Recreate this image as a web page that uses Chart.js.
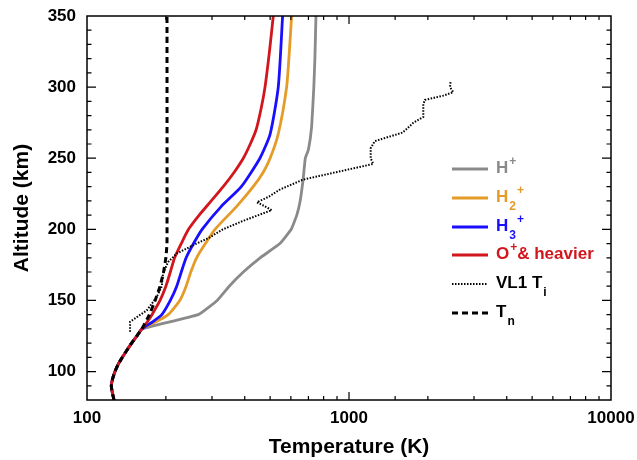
<!DOCTYPE html>
<html lang="en">
<head>
  <meta charset="UTF-8" />
  <title>Ion temperature profiles</title>
  <script src="https://cdn.jsdelivr.net/npm/chart.js"></script>
  <style>
    html, body {
      margin: 0;
      padding: 0;
      background: #fff;
    }
    #tempChart {
      display: block;
    }
  </style>
</head>
<body>
  <canvas id="tempChart" width="637" height="460"></canvas>

  <script>
  // shared lower thermosphere (all profiles follow Tn below ~130 km)
  const lowAlt  = [80, 85, 90, 95, 100, 105, 110, 115, 120, 125, 130];
  const lowTemp = [126.8, 125, 123.8, 125.3, 127.9, 131.5, 136.4, 142, 148, 155, 162];

  const hpAlt  = [140, 150, 160, 170, 180, 190, 200, 210, 220, 235, 250, 256, 272, 300, 320, 350];
  const hpTemp = [266, 314, 349, 395, 458, 545, 602, 632, 651, 668, 681, 700, 720, 734, 741, 748];

  const h2Alt  = [135, 140, 150, 160, 170, 180, 190, 200, 216, 230, 240, 250, 267, 300, 325, 350];
  const h2Temp = [183, 204, 226, 239, 249, 262, 283, 308, 372, 431, 470, 500, 537, 578, 592, 604];

  const h3Alt  = [135, 140, 150, 160, 170, 180, 190, 200, 216, 230, 250, 267, 300, 350];
  const h3Temp = [178, 193, 208, 220, 229, 239, 255, 275, 325, 388, 457, 500, 537, 558];

  const opAlt  = [135, 140, 150, 160, 170, 180, 190, 200, 210, 220, 230, 240, 250, 260, 270, 285, 300, 325, 350];
  const opTemp = [170, 177, 190, 200, 208, 216, 229, 244, 268, 298, 331, 364, 395, 420, 442, 462, 478, 497, 514];

  const tnAlt  = [140, 150, 160, 170, 180, 190, 350];
  const tnTemp = [173, 182, 190, 196, 200, 202, 202];

  // Viking 1 lander ion temperature
  const tiAlt  = [128, 135, 143, 152, 160, 169, 177, 183, 190, 194, 200, 206, 213.5, 215, 217, 219,
                  223, 228, 235, 246, 250, 257, 262, 268, 275, 279, 288, 291, 294, 296.5, 300, 303.5];
  const tiTemp = [146, 146, 169, 184, 193, 195, 204, 220, 262, 292, 330, 395, 507, 490, 468, 445,
                  495, 545, 669, 1238, 1210, 1210, 1254, 1600, 1762, 1921, 1921, 1950, 2290, 2500, 2430, 2440];

  const xTickLabels = [100, 1000, 10000];
  const yTickLabels = [100, 150, 200, 250, 300, 350];

  const colors = {
    hp: '#8a8a8a',
    h2: '#e59b27',
    h3: '#1a0eff',
    op: '#d2161d',
    ti: '#000000',
    tn: '#000000'
  };

  // legend entries: text runs ('n' normal, 'sup', 'sub')
  const legendItems = [
    { runs: [['H', 'n'], ['+', 'sup']], color: colors.hp, dash: [], width: 2.8 },
    { runs: [['H', 'n'], ['2', 'sub'], ['+', 'sup']], color: colors.h2, dash: [], width: 2.8 },
    { runs: [['H', 'n'], ['3', 'sub'], ['+', 'sup']], color: colors.h3, dash: [], width: 2.8 },
    { runs: [['O', 'n'], ['+', 'sup'], ['& heavier', 'n']], color: colors.op, dash: [], width: 2.8 },
    { runs: [['VL1 T', 'n'], ['i', 'sub']], color: '#000', dash: [1.5, 1.5], width: 2 },
    { runs: [['T', 'n'], ['n', 'sub']], color: '#000', dash: [6, 4], width: 3 }
  ];

  const toPoints = (alts, temps) => alts.map((a, i) => ({ x: temps[i], y: a }));

  const FONT = '"Liberation Sans", Arial, sans-serif';
  Chart.defaults.font.family = FONT;
  Chart.defaults.font.weight = 'bold';
  Chart.defaults.color = '#000';

  const isDecade = v => Math.abs(Math.log10(v) - Math.round(Math.log10(v))) < 1e-6;

  // box frame with inward ticks on all four sides
  const frameTicks = {
    id: 'frameTicks',
    afterDraw(chart) {
      const { ctx, chartArea: a, scales: { x, y } } = chart;
      ctx.save();
      ctx.strokeStyle = '#000';
      ctx.lineWidth = 1.5;
      ctx.strokeRect(a.left, a.top, a.right - a.left, a.bottom - a.top);
      ctx.lineWidth = 1.2;
      ctx.beginPath();
      x.ticks.forEach(t => {
        const px = x.getPixelForValue(t.value);
        if (px <= a.left + 1 || px >= a.right - 1) return;
        const len = xTickLabels.includes(t.value) ? 8 : 4;
        ctx.moveTo(px, a.bottom); ctx.lineTo(px, a.bottom - len);
        ctx.moveTo(px, a.top); ctx.lineTo(px, a.top + len);
      });
      y.ticks.forEach(t => {
        const py = y.getPixelForValue(t.value);
        if (py <= a.top + 1 || py >= a.bottom - 1) return;
        const len = yTickLabels.includes(t.value) ? 9 : 4.5;
        ctx.moveTo(a.left, py); ctx.lineTo(a.left + len, py);
        ctx.moveTo(a.right, py); ctx.lineTo(a.right - len, py);
      });
      ctx.stroke();
      ctx.restore();
    }
  };

  // legend with sub/superscripts
  const richLegend = {
    id: 'richLegend',
    afterDraw(chart) {
      const { ctx } = chart;
      const rowY = [169, 198, 227, 255, 284, 313];
      ctx.save();
      legendItems.forEach((item, i) => {
        const y = rowY[i];
        ctx.strokeStyle = item.color;
        ctx.lineWidth = item.width;
        ctx.setLineDash(item.dash);
        ctx.beginPath();
        ctx.moveTo(452, y);
        ctx.lineTo(488, y);
        ctx.stroke();
        ctx.setLineDash([]);

        let tx = 496;
        ctx.fillStyle = item.color;
        ctx.textBaseline = 'alphabetic';
        item.runs.forEach(([text, kind]) => {
          if (kind === 'n') {
            ctx.font = 'bold 17px ' + FONT;
            ctx.fillText(text, tx, y + 4);
          } else if (kind === 'sup') {
            ctx.font = 'bold 12px ' + FONT;
            ctx.fillText(text, tx + 1, y - 4);
          } else {
            ctx.font = 'bold 12px ' + FONT;
            ctx.fillText(text, tx + 1, y + 12);
          }
          tx += ctx.measureText(text).width + (kind === 'n' ? 0 : 1);
        });
      });
      ctx.restore();
    }
  };

  const line = (label, alts, temps, color, extra) => Object.assign({
    label,
    data: toPoints(alts, temps),
    borderColor: color,
    borderWidth: 2.8,
    pointRadius: 0,
    fill: false,
    tension: 0.2
  }, extra);

  new Chart(document.getElementById('tempChart'), {
    type: 'line',
    data: {
      datasets: [
        line('Tn', lowAlt.concat(tnAlt), lowTemp.concat(tnTemp), colors.tn,
             { borderDash: [6, 4], borderWidth: 3, order: 0, tension: 0.1 }),
        line('VL1 Ti', tiAlt, tiTemp, colors.ti,
             { borderDash: [1.5, 1.5], borderWidth: 2, order: 1, tension: 0 }),
        line('O+ & heavier', lowAlt.concat(opAlt), lowTemp.concat(opTemp), colors.op, { order: 2 }),
        line('H3+', lowAlt.concat(h3Alt), lowTemp.concat(h3Temp), colors.h3, { order: 3 }),
        line('H2+', lowAlt.concat(h2Alt), lowTemp.concat(h2Temp), colors.h2, { order: 4 }),
        line('H+', lowAlt.concat(hpAlt), lowTemp.concat(hpTemp), colors.hp, { order: 5, tension: 0.1 })
      ]
    },
    options: {
      responsive: false,
      animation: false,
      devicePixelRatio: 1,
      layout: { padding: { top: 16, right: 26, bottom: 0, left: 0 } },
      plugins: {
        legend: { display: false },
        tooltip: { enabled: false }
      },
      scales: {
        x: {
          type: 'logarithmic',
          min: 100,
          max: 10000,
          grid: { display: false, drawTicks: false },
          border: { display: false },
          ticks: {
            autoSkip: false,
            maxRotation: 0,
            padding: 8,
            font: { size: 17, weight: 'bold' },
            callback: v => (isDecade(v) && xTickLabels.includes(v)) ? String(v) : ''
          },
          title: {
            display: true,
            text: 'Temperature (K)',
            font: { size: 21, weight: 'bold' },
            padding: { top: 0, bottom: 0 }
          },
          afterFit: s => {
            s.height = 60;
            s.paddingLeft = 0;
            s.paddingRight = 0;
          }
        },
        y: {
          type: 'linear',
          min: 80,
          max: 350,
          grid: { display: false, drawTicks: false },
          border: { display: false },
          ticks: {
            stepSize: 10,
            autoSkip: false,
            padding: 11,
            font: { size: 17, weight: 'bold' },
            callback: v => yTickLabels.includes(v) ? String(v) : ''
          },
          title: {
            display: true,
            text: 'Altitude (km)',
            font: { size: 21, weight: 'bold' },
            padding: { top: 10, bottom: 0 }
          },
          afterFit: s => {
            s.width = 87;
            s.paddingTop = 0;
            s.paddingBottom = 0;
          }
        }
      }
    },
    plugins: [frameTicks, richLegend]
  });
  </script>
</body>
</html>
